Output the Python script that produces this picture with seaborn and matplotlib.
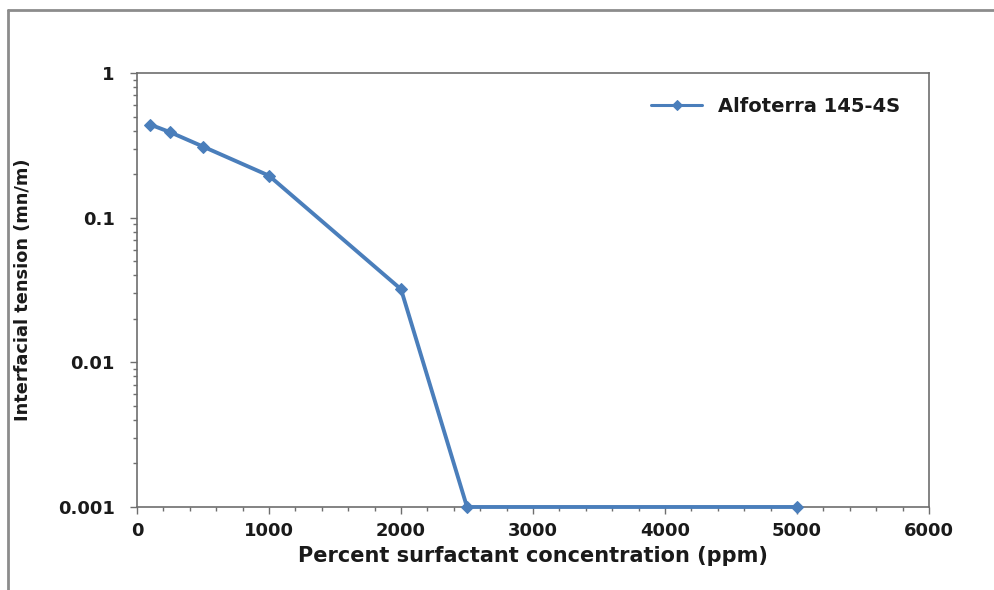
import matplotlib
matplotlib.use("Agg")
import matplotlib.pyplot as plt
import matplotlib.ticker as mticker
from matplotlib.lines import Line2D
import seaborn as sns
import pandas as pd

# values
concentration = [100, 250, 500, 1000, 2000, 2500, 5000]
ift = [0.44, 0.39, 0.31, 0.195, 0.032, 0.001, 0.001]
series_name = "Alfoterra 145-4S"

sns.set_style("white")
plt.rcParams['font.family'] = ['DejaVu Sans']

df = pd.DataFrame({"conc": concentration, "ift": ift, "series": series_name})

fig = plt.figure(figsize=(9.95, 5.9), dpi=100)
ax = fig.add_axes([0.1377, 0.1407, 0.796, 0.7356])

blue = "#4a7ebb"
sns.lineplot(data=df, x="conc", y="ift", hue="series", palette=[blue],
             marker="D", markersize=6.5, linewidth=2.8, markeredgecolor=blue,
             ax=ax, clip_on=False, zorder=5)

ax.set_yscale("log")
ax.set_ylim(0.001, 1)
ax.set_xlim(0, 6000)
ax.xaxis.set_major_locator(mticker.MultipleLocator(1000))
ax.xaxis.set_minor_locator(mticker.MultipleLocator(200))
ax.yaxis.set_major_locator(mticker.LogLocator(base=10))
ax.yaxis.set_minor_locator(mticker.LogLocator(base=10, subs=range(2, 10)))
ax.yaxis.set_major_formatter(mticker.FuncFormatter(lambda v, p: f"{v:g}"))
ax.yaxis.set_minor_formatter(mticker.NullFormatter())

for s in ax.spines.values():
    s.set_color("#6e6e6e")
    s.set_linewidth(1.2)

ax.tick_params(axis="both", which="major", direction="out", length=5,
               width=1, color="#6e6e6e", labelsize=13)
ax.tick_params(axis="both", which="minor", direction="out", length=3,
               width=1, color="#6e6e6e")
ax.tick_params(axis="x", which="major", pad=6)
ax.tick_params(axis="y", which="major", pad=11)
ax.tick_params(axis="x", which="both", bottom=True)
ax.tick_params(axis="y", which="both", left=True)
for lab in ax.get_xticklabels() + ax.get_yticklabels():
    lab.set_fontweight("bold")
    lab.set_color("#1a1a1a")

ax.set_xlabel("Percent surfactant concentration (ppm)", fontsize=15,
              fontweight="bold", color="#1a1a1a", labelpad=4)
ax.set_ylabel("Interfacial tension (mn/m)", fontsize=12.8,
              fontweight="bold", color="#1a1a1a")
ax.yaxis.set_label_coords(-0.133, 0.5)

leg = ax.legend(loc="upper right", frameon=False, fontsize=14,
                handlelength=2.6, bbox_to_anchor=(0.985, 0.985))
for t in leg.get_texts():
    t.set_fontweight("bold")
    t.set_color("#1a1a1a")
for h in leg.legend_handles:
    h.set_linewidth(2.2)
    h.set_markersize(5)

# outer frame of the embedded chart
fig.add_artist(Line2D([0.008, 0.008], [0.0, 0.983], color="#8c8c8c",
                      linewidth=2, transform=fig.transFigure))
fig.add_artist(Line2D([0.008, 1.0], [0.983, 0.983], color="#8c8c8c",
                      linewidth=2, transform=fig.transFigure))

fig.savefig("out.png", dpi=100)
